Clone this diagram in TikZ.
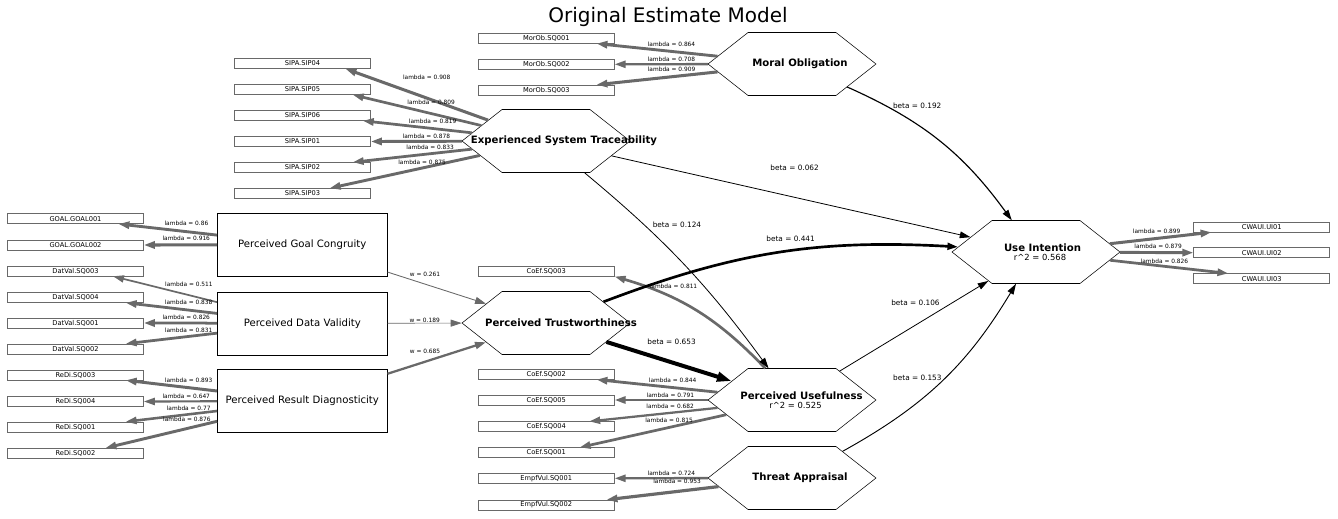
\documentclass[tikz,border=0pt]{standalone}
\usepackage{fontspec}
\setmainfont{DejaVu Sans}
\usetikzlibrary{arrows.meta, shapes.symbols}

\definecolor{loadgray}{RGB}{105,105,105}

\tikzset{
  indbox/.style={rectangle, draw=loadgray, minimum width=102pt, minimum height=7.5pt, inner sep=0pt, font=\fontsize{5}{6}\selectfont},
  hexnode/.style={signal, signal to=west and east, signal pointer angle=76.4, draw, minimum width=126pt, minimum height=47.25pt, inner sep=0pt},
  hexlabel/.style={font=\fontsize{7.6}{8}\selectfont\bfseries, inner sep=0pt},
  rlabel/.style={font=\fontsize{6.3}{7}\selectfont, inner sep=0pt},
  formbox/.style={rectangle, draw, minimum width=127.5pt, minimum height=47.25pt, inner sep=0pt, font=\fontsize{7.6}{8}\selectfont},
  load/.style={draw=loadgray, -{Triangle[length=8.25pt, width=5.25pt]}},
  lam/.style={font=\fontsize{4.4}{5}\selectfont, inner sep=0pt},
  effect/.style={draw=black, -{Triangle[length=8pt, width=5pt]}},
  betalab/.style={font=\fontsize{5.5}{6}\selectfont, inner sep=0pt}
}

\begin{document}
\begin{tikzpicture}[x=0.75pt, y=-0.75pt]
\useasboundingbox (0,0) rectangle (1338,518);

\node[font=\fontsize{15}{18}\selectfont] (title) at (668,17) {Original Estimate Model};

% constructs
\node[hexnode, label={[hexlabel, xshift=6pt]center:Moral Obligation}] (mo) at (792,64) {};
\node[hexnode, label={[hexlabel, xshift=13.5pt]center:Experienced System Traceability}] (est) at (546,141) {};
\node[hexnode, label={[hexlabel, xshift=11.25pt]center:Perceived Trustworthiness}] (pt) at (546,323) {};
\node[hexnode, label={[hexlabel, xshift=7.1pt, yshift=3.2pt]center:Perceived Usefulness},
  label={[rlabel, xshift=2.6pt, yshift=-4.1pt]center:r\textasciicircum 2 = 0.525}] (pu) at (792,400) {};
\node[hexnode, label={[hexlabel, xshift=6pt]center:Threat Appraisal}] (ta) at (792,478) {};
\node[hexnode, label={[hexlabel, xshift=4.9pt, yshift=3.2pt]center:Use Intention},
  label={[rlabel, xshift=3pt, yshift=-3.8pt]center:r\textasciicircum 2 = 0.568}] (ui) at (1036,252) {};

\node[formbox] (pgc) at (302.3,244.7) {Perceived Goal Congruity};
\node[formbox] (pdv) at (302.3,323.3) {Perceived Data Validity};
\node[formbox] (prd) at (302.3,401) {Perceived Result Diagnosticity};

% indicators
\node[indbox] (mo1) at (546.3,38.3) {MorOb.SQ001};
\node[indbox] (mo2) at (546.3,64.3) {MorOb.SQ002};
\node[indbox] (mo3) at (546.3,90) {MorOb.SQ003};
\node[indbox] (sip4) at (302.5,63.5) {SIPA.SIP04};
\node[indbox] (sip5) at (302.5,89.5) {SIPA.SIP05};
\node[indbox] (sip6) at (302.5,115.5) {SIPA.SIP06};
\node[indbox] (sip1) at (302.5,141.5) {SIPA.SIP01};
\node[indbox] (sip2) at (302.5,167.5) {SIPA.SIP02};
\node[indbox] (sip3) at (302.5,193.5) {SIPA.SIP03};
\node[indbox] (g1) at (75.5,218.7) {GOAL.GOAL001};
\node[indbox] (g2) at (75.5,245) {GOAL.GOAL002};
\node[indbox] (dv3) at (75.5,271) {DatVal.SQ003};
\node[indbox] (dv4) at (75.5,297.5) {DatVal.SQ004};
\node[indbox] (dv1) at (75.5,323) {DatVal.SQ001};
\node[indbox] (dv2) at (75.5,349) {DatVal.SQ002};
\node[indbox] (rd3) at (75.5,375) {ReDi.SQ003};
\node[indbox] (rd4) at (75.5,401.5) {ReDi.SQ004};
\node[indbox] (rd1) at (75.5,427) {ReDi.SQ001};
\node[indbox] (rd2) at (75.5,453.3) {ReDi.SQ002};
\node[indbox] (ce3) at (546.3,271.7) {CoEf.SQ003};
\node[indbox] (ce2) at (546.3,374.3) {CoEf.SQ002};
\node[indbox] (ce5) at (546.3,400) {CoEf.SQ005};
\node[indbox] (ce4) at (546.3,426.7) {CoEf.SQ004};
\node[indbox] (ce1) at (546.3,452.7) {CoEf.SQ001};
\node[indbox] (ev1) at (546.3,478.3) {EmpfVul.SQ001};
\node[indbox] (ev2) at (546.3,505) {EmpfVul.SQ002};
\node[indbox] (cw1) at (1261.7,227) {CWAUI.UI01};
\node[indbox] (cw2) at (1261.7,252.7) {CWAUI.UI02};
\node[indbox] (cw3) at (1261.7,278.7) {CWAUI.UI03};

% loadings
\foreach \src/\dst/\val/\ps/\off in {
  mo/mo1.-6.3/0.864/0.38/2.4, mo/mo2.0/0.708/0.39/1, mo/mo3.6.5/0.909/0.38/3,
  est/sip4.-7.6/0.908/0.43/13, est/sip5.-6.5/0.809/0.39/6, est/sip6.-5.7/0.819/0.36/3,
  est/sip1.0/0.878/0.39/1, est/sip2.6.9/0.833/0.35/2, est/sip3.11.6/0.875/0.385/1.5,
  pgc/g1.-7/0.86/0.31/3.8, pgc/g2.0/0.916/0.42/1.8,
  pdv/dv3.-8.7/0.511/0.27/6, pdv/dv4.-6.7/0.838/0.31/3, pdv/dv1.0/0.826/0.42/1.5, pdv/dv2.6.7/0.831/0.31/2,
  prd/rd3.-6.9/0.893/0.31/3, prd/rd4.0/0.647/0.42/1.6, prd/rd1.6.7/0.77/0.31/1.5, prd/rd2.10.2/0.876/0.27/3.8,
  pu/ce2.-6.3/0.844/0.37/3, pu/ce5.0/0.791/0.4/0.8, pu/ce4.7/0.682/0.37/2.6, pu/ce1.9.6/0.815/0.39/3,
  ta/ev1.0/0.724/0.39/1.4, ta/ev2.5.3/0.953/0.37/4.5,
  ui/cw1.186.3/0.899/0.46/2.2, ui/cw2.180/0.879/0.52/1.5, ui/cw3.171.2/0.826/0.46/1.1}
  \draw[load, line width=\val*2.5pt] (\src) -- node[lam, pos=\ps, above=\off pt] {lambda = \val} (\dst);
\draw[load, line width=2pt] (pu) to[bend right=15] node[lam, pos=0.66, above=6pt] {lambda = 0.811} (ce3.-4.6);

% formative weights
\draw[load, line width=0.65pt] (pgc) -- node[lam, pos=0.38, above=5pt] {w = 0.261} (pt);
\draw[load, line width=0.5pt] (pdv) -- node[lam, pos=0.5, above=0pt] {w = 0.189} (pt);
\draw[load, line width=1.7pt] (prd) -- node[lam, pos=0.38, above=5.3pt] {w = 0.685} (pt);

% paths
\draw[effect, line width=0.86pt] (mo) to[bend left=15] node[betalab, pos=0.22, above right=0pt] {beta = 0.192} (ui);
\draw[effect, line width=0.6pt] (est) -- node[betalab, pos=0.51, above=20pt] {beta = 0.062} (ui);
\draw[effect, line width=0.6pt] (est) to[bend left=7] node[betalab, pos=0.28, right=6pt] {beta = 0.124} (pu);
\draw[effect, line width=2pt] (pt) to[bend left=12] node[betalab, pos=0.54, above=5.6pt] {beta = 0.441} (ui);
\draw[effect, line width=3pt, -{Triangle[length=11pt, width=7pt]}] (pt) -- node[betalab, pos=0.52, above=11.6pt] {beta = 0.653} (pu);
\draw[effect, line width=0.6pt] (pu) -- node[betalab, pos=0.51, above=14.6pt] {beta = 0.106} (ui);
\draw[effect, line width=0.7pt] (ta) to[bend right=15] node[betalab, pos=0.5, above left=0pt] {beta = 0.153} (ui);
\end{tikzpicture}
\end{document}
